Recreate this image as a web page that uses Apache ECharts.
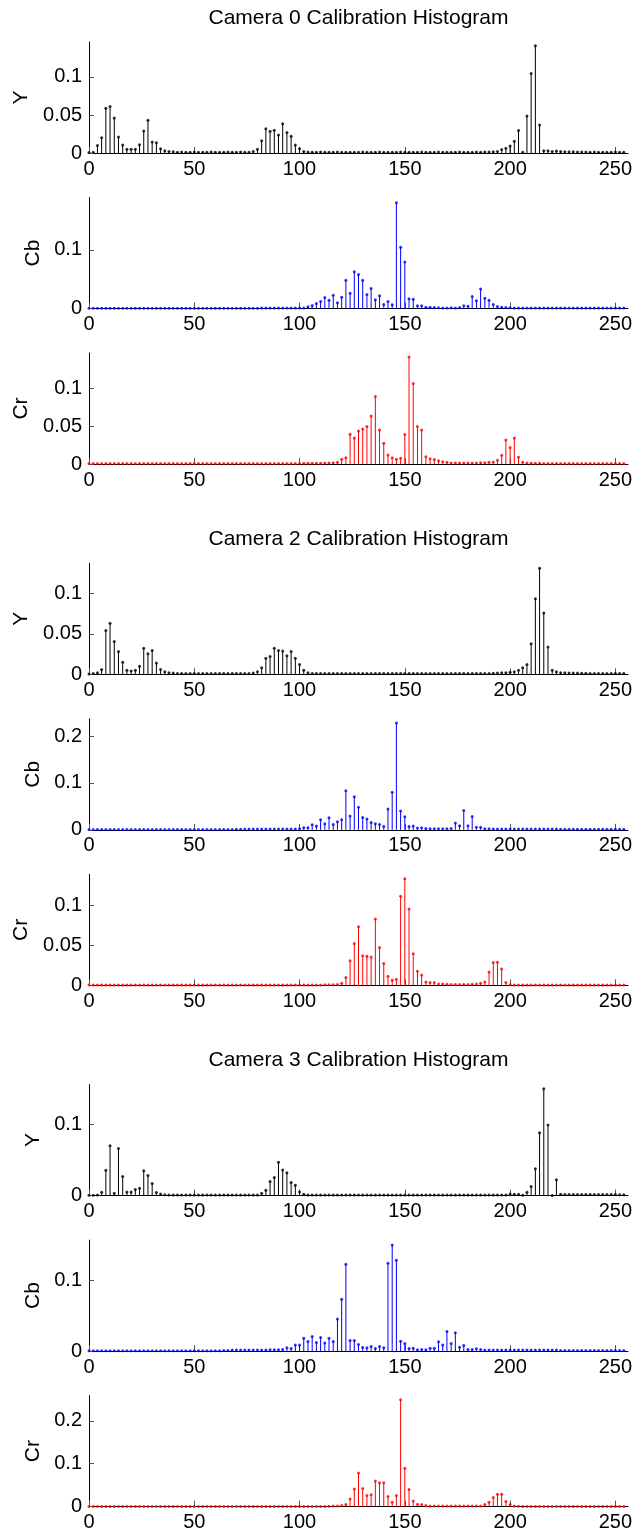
<!DOCTYPE html>
<html>
<head>
<meta charset="utf-8">
<script src="https://cdn.jsdelivr.net/npm/echarts@6/dist/echarts.min.js"></script>
<style>
html,body{margin:0;padding:0;background:#fff;}
#chart{width:637px;height:1535px;}
</style>
</head>
<body>
<div id="chart"></div>
<script>
// Histogram bins (even levels 0..254)
const bins = [];
for (let b = 0; b <= 254; b += 2) bins.push(b);

const titles = ["Camera 0 Calibration Histogram", "Camera 2 Calibration Histogram", "Camera 3 Calibration Histogram"];
const channelNames = ["Y", "Cb", "Cr"];
const channelColors = ["#000000", "#0000ff", "#ff0000"];
const xTicks = [0, 50, 100, 150, 200, 250];

// Camera 0
const cam0Y = [
0.0005,0.001,0.010,0.020,0.059,0.061,0.046,0.021,0.0105,0.005,0.005,0.005,0.011,0.029,0.043,0.0145,
0.0136,0.0057,0.003,0.002,0.0015,0.001,0.0012,0.001,0.001,0.0012,0.001,0.001,0.001,0.0012,0.001,0.001,
0.001,0.0012,0.001,0.001,0.0012,0.001,0.001,0.002,0.005,0.016,0.032,0.0285,0.030,0.0237,0.0386,0.027,
0.022,0.0105,0.0057,0.002,0.0012,0.001,0.001,0.0012,0.001,0.001,0.001,0.0012,0.001,0.001,0.001,0.001,
0.001,0.0012,0.001,0.001,0.001,0.0012,0.001,0.001,0.001,0.001,0.0012,0.001,0.001,0.001,0.001,0.0012,
0.001,0.001,0.001,0.0012,0.001,0.001,0.001,0.001,0.0012,0.001,0.001,0.001,0.0012,0.001,0.0012,0.0012,
0.0015,0.002,0.0045,0.0061,0.0092,0.0153,0.0297,0.001,0.0487,0.1047,0.141,0.0368,0.003,0.003,0.002,0.0026,
0.002,0.0018,0.0015,0.0015,0.0013,0.0012,0.0012,0.001,0.0012,0.001,0.001,0.001,0.001,0.0012,0.001,0.001
];
const cam0Cb = [
0.0005,0.0005,0.0005,0.0005,0.0005,0.0005,0.0005,0.0005,0.0005,0.0005,0.0005,0.0005,0.0005,0.0005,0.0005,0.0005,
0.0005,0.0005,0.0005,0.0005,0.0005,0.0005,0.0005,0.0005,0.0005,0.0005,0.0005,0.0005,0.0005,0.0005,0.0005,0.0005,
0.0005,0.0005,0.0005,0.0005,0.0005,0.0005,0.0005,0.0005,0.0005,0.0008,0.0008,0.0008,0.001,0.001,0.001,0.001,
0.001,0.001,0.001,0.001,0.0028,0.005,0.0085,0.0119,0.0186,0.0141,0.0226,0.0096,0.0192,0.048,0.026,0.0627,
0.058,0.048,0.0237,0.034,0.0147,0.0215,0.0068,0.0119,0.0062,0.180,0.1045,0.079,0.0164,0.0158,0.0045,0.0045,
0.0023,0.0023,0.0015,0.0012,0.001,0.001,0.0012,0.001,0.0015,0.0045,0.004,0.0203,0.013,0.0333,0.0175,0.014,
0.0068,0.0034,0.0023,0.0017,0.0012,0.001,0.001,0.001,0.001,0.001,0.001,0.001,0.001,0.001,0.001,0.001,
0.0008,0.0008,0.0008,0.0008,0.0008,0.0008,0.0008,0.0008,0.0008,0.0008,0.0008,0.0008,0.0008,0.0008,0.0008,0.0008
];
const cam0Cr = [
0.0005,0.0005,0.0005,0.0005,0.0005,0.0005,0.0005,0.0005,0.0005,0.0005,0.0005,0.0005,0.0005,0.0005,0.0005,0.0005,
0.0005,0.0005,0.0005,0.0005,0.0005,0.0005,0.0005,0.0005,0.0005,0.0005,0.0005,0.0005,0.0005,0.0005,0.0005,0.0005,
0.0005,0.0005,0.0005,0.0005,0.0005,0.0005,0.0005,0.0005,0.0005,0.0005,0.0005,0.0005,0.0005,0.0005,0.0005,0.0005,
0.0008,0.0008,0.0008,0.001,0.001,0.001,0.001,0.001,0.0013,0.0013,0.0018,0.0022,0.0062,0.0084,0.0394,0.0345,
0.0438,0.0465,0.0496,0.0637,0.0894,0.045,0.0274,0.012,0.0084,0.0062,0.0075,0.039,0.1416,0.1066,0.0496,0.0451,
0.0097,0.0071,0.0058,0.0044,0.003,0.0022,0.0013,0.0013,0.0013,0.0013,0.0013,0.0013,0.0013,0.0018,0.0018,0.0022,
0.0027,0.0049,0.0115,0.0319,0.0217,0.0345,0.0088,0.0022,0.0013,0.001,0.001,0.001,0.0008,0.0008,0.0008,0.0008,
0.0008,0.0008,0.0008,0.0005,0.0005,0.0005,0.0005,0.0005,0.0005,0.0005,0.0005,0.0005,0.0005,0.0005,0.0005,0.0005
];

// Camera 2
const cam2Y = [
0.0005,0.001,0.002,0.006,0.054,0.063,0.0406,0.028,0.015,0.005,0.004,0.005,0.010,0.032,0.0254,0.0295,
0.014,0.006,0.003,0.002,0.0015,0.001,0.001,0.001,0.001,0.001,0.001,0.001,0.001,0.001,0.001,0.001,
0.001,0.001,0.001,0.001,0.001,0.001,0.001,0.0015,0.003,0.008,0.0197,0.022,0.032,0.0295,0.0287,0.023,
0.028,0.0197,0.012,0.005,0.002,0.001,0.001,0.001,0.001,0.001,0.001,0.001,0.001,0.001,0.001,0.001,
0.001,0.001,0.001,0.001,0.001,0.001,0.001,0.001,0.001,0.001,0.001,0.001,0.001,0.001,0.001,0.001,
0.001,0.001,0.001,0.001,0.001,0.001,0.001,0.001,0.001,0.001,0.001,0.001,0.001,0.001,0.001,0.001,
0.0012,0.0015,0.002,0.002,0.0025,0.003,0.005,0.008,0.012,0.0377,0.0934,0.131,0.0758,0.0336,0.005,0.003,
0.002,0.002,0.0015,0.0015,0.0015,0.0012,0.0012,0.001,0.001,0.001,0.001,0.001,0.001,0.001,0.001,0.001
];
const cam2Cb = [
0.0005,0.0005,0.0005,0.0005,0.0005,0.0005,0.0005,0.0005,0.0005,0.0005,0.0005,0.0005,0.0005,0.0005,0.0005,0.0005,
0.0005,0.0005,0.0005,0.0005,0.0005,0.0005,0.0005,0.0005,0.0005,0.0005,0.0005,0.0005,0.0005,0.0005,0.0005,0.0005,
0.0008,0.0008,0.0008,0.001,0.001,0.0015,0.0015,0.0015,0.0015,0.0015,0.0015,0.0015,0.0015,0.0015,0.0015,0.0015,
0.0015,0.0015,0.002,0.0043,0.0043,0.0107,0.0079,0.0214,0.0129,0.0257,0.0114,0.0171,0.0214,0.0836,0.0293,0.0707,
0.048,0.0264,0.0229,0.0157,0.0129,0.0114,0.007,0.0443,0.08,0.228,0.04,0.0279,0.007,0.0079,0.0036,0.0043,
0.003,0.0025,0.0025,0.0025,0.0025,0.0025,0.003,0.0143,0.0086,0.0414,0.0086,0.0286,0.0057,0.0057,0.002,0.002,
0.0015,0.0015,0.0015,0.0015,0.0015,0.0015,0.0015,0.0015,0.0015,0.0015,0.0015,0.0015,0.0015,0.0015,0.0015,0.0015,
0.001,0.001,0.001,0.001,0.001,0.001,0.001,0.001,0.001,0.001,0.001,0.001,0.001,0.001,0.001,0.001
];
const cam2Cr = [
0.0005,0.0005,0.0005,0.0005,0.0005,0.0005,0.0005,0.0005,0.0005,0.0005,0.0005,0.0005,0.0005,0.0005,0.0005,0.0005,
0.0005,0.0005,0.0005,0.0005,0.0005,0.0005,0.0005,0.0005,0.0005,0.0005,0.0005,0.0005,0.0005,0.0005,0.0005,0.0005,
0.0005,0.0005,0.0005,0.0005,0.0005,0.0005,0.0005,0.0005,0.0005,0.0005,0.0005,0.0005,0.0005,0.0005,0.0005,0.0005,
0.0005,0.0005,0.0005,0.0005,0.0005,0.0005,0.0005,0.0005,0.0006,0.0008,0.0008,0.001,0.0025,0.0097,0.0307,0.0525,
0.0735,0.037,0.0366,0.0357,0.0832,0.0475,0.0273,0.0113,0.0063,0.0076,0.112,0.134,0.096,0.0395,0.0176,0.013,
0.0042,0.0034,0.0034,0.0017,0.0017,0.0013,0.001,0.001,0.001,0.001,0.001,0.0012,0.0015,0.0025,0.0042,0.0168,
0.0286,0.029,0.0206,0.0034,0.0008,0.0005,0.0005,0.0005,0.0005,0.0005,0.0005,0.0005,0.0005,0.0005,0.0005,0.0005,
0.0005,0.0005,0.0005,0.0005,0.0005,0.0005,0.0005,0.0005,0.0005,0.0005,0.0005,0.0005,0.0005,0.0005,0.0005,0.0005
];

// Camera 3
const cam3Y = [
0.0005,0.0005,0.001,0.0047,0.0354,0.0698,0.0033,0.066,0.0269,0.0052,0.0052,0.0085,0.0104,0.0349,0.0283,0.017,
0.0042,0.0024,0.0012,0.001,0.001,0.001,0.001,0.001,0.001,0.001,0.001,0.001,0.001,0.001,0.001,0.001,
0.001,0.001,0.001,0.001,0.001,0.001,0.001,0.001,0.001,0.0033,0.0075,0.0198,0.0255,0.0467,0.0358,0.0321,
0.0184,0.0146,0.0052,0.0019,0.001,0.0008,0.0008,0.0008,0.0008,0.0008,0.0008,0.0008,0.0008,0.0008,0.0008,0.0008,
0.0008,0.0008,0.0008,0.0008,0.0008,0.0008,0.0008,0.0008,0.0008,0.0008,0.0008,0.0008,0.0008,0.0008,0.0008,0.0008,
0.0008,0.0008,0.0008,0.0008,0.0008,0.0008,0.0008,0.001,0.001,0.001,0.001,0.001,0.001,0.001,0.001,0.001,
0.001,0.001,0.001,0.001,0.0024,0.002,0.002,0.0005,0.0047,0.0127,0.0377,0.0882,0.150,0.099,0.0,0.0222,
0.002,0.0015,0.0015,0.0015,0.0015,0.0015,0.0015,0.0015,0.0015,0.0015,0.0015,0.0015,0.0015,0.0015,0.0012,0.0012
];
const cam3Cb = [
0.0005,0.0005,0.0005,0.0005,0.0005,0.0005,0.0005,0.0005,0.0005,0.0005,0.0005,0.0005,0.0005,0.0005,0.0005,0.0005,
0.0005,0.0005,0.0005,0.0005,0.0005,0.0005,0.0005,0.0005,0.0005,0.0005,0.0005,0.0005,0.0005,0.0005,0.0005,0.0005,
0.0008,0.001,0.0015,0.0015,0.0015,0.0015,0.0015,0.0015,0.0015,0.0015,0.0015,0.002,0.002,0.002,0.0023,0.0047,
0.0038,0.0085,0.0085,0.0183,0.0136,0.0207,0.0122,0.0192,0.0113,0.0183,0.0136,0.0455,0.0732,0.123,0.015,0.015,
0.0094,0.0052,0.0047,0.0066,0.0038,0.0066,0.0047,0.1244,0.150,0.1286,0.0141,0.0108,0.0038,0.0042,0.0019,0.0023,
0.0019,0.0042,0.0042,0.0131,0.0085,0.0277,0.0108,0.0258,0.0056,0.008,0.0023,0.0023,0.0033,0.0023,0.0015,0.0015,
0.0015,0.0015,0.0015,0.0015,0.0015,0.0015,0.0015,0.0015,0.0015,0.0015,0.0015,0.0015,0.0015,0.0015,0.0015,0.0015,
0.0008,0.0008,0.0008,0.0008,0.0008,0.0008,0.0008,0.0008,0.0008,0.0008,0.0008,0.0008,0.0008,0.0008,0.0008,0.0008
];
const cam3Cr = [
0.0005,0.0005,0.0005,0.0005,0.0005,0.0005,0.0005,0.0005,0.0005,0.0005,0.0005,0.0005,0.0005,0.0005,0.0005,0.0005,
0.0005,0.0005,0.0005,0.0005,0.0005,0.0005,0.0005,0.0005,0.0005,0.0005,0.0005,0.0005,0.0005,0.0005,0.0005,0.0005,
0.0005,0.0005,0.0005,0.0005,0.0005,0.0005,0.0005,0.0005,0.0005,0.0005,0.0005,0.0005,0.0005,0.0005,0.0005,0.0005,
0.0005,0.0005,0.0005,0.0005,0.0005,0.0005,0.0005,0.0005,0.0005,0.0008,0.0016,0.0016,0.0024,0.0047,0.018,0.0408,
0.0784,0.0424,0.0259,0.0275,0.0596,0.0557,0.0557,0.0235,0.0102,0.0259,0.2494,0.0894,0.04,0.0133,0.0055,0.0047,
0.0024,0.0016,0.0012,0.0012,0.0012,0.0012,0.0012,0.0012,0.0012,0.0012,0.0012,0.0012,0.0012,0.0012,0.0047,0.0102,
0.0212,0.029,0.029,0.0118,0.0047,0.0016,0.0008,0.0005,0.0005,0.0005,0.0005,0.0005,0.0005,0.0005,0.0005,0.0005,
0.0005,0.0005,0.0005,0.0005,0.0005,0.0005,0.0005,0.0005,0.0005,0.0005,0.0005,0.0005,0.0005,0.0005,0.0005,0.0005
];

// y-axis upper limits and tick labels per panel
const yMax = [0.146, 0.189, 0.147, 0.137, 0.237, 0.1395, 0.1557, 0.157, 0.259];
const yTicks = [
  [0, 0.05, 0.1], [0, 0.1], [0, 0.05, 0.1],
  [0, 0.05, 0.1], [0, 0.1, 0.2], [0, 0.05, 0.1],
  [0, 0.1], [0, 0.1], [0, 0.1, 0.2]
];

const panels = [cam0Y, cam0Cb, cam0Cr, cam2Y, cam2Cb, cam2Cr, cam3Y, cam3Cb, cam3Cr];

const FONT = '"Liberation Sans", Arial, Helvetica, sans-serif';
const PLOT_LEFT = 89, PLOT_W = 539, PLOT_H = 111;
const GROUP_STEP = 521.3, PANEL_STEP = 155.5, FIRST_TOP = 42;

const grid = [], xAxis = [], yAxis = [], series = [], graphic = [];

panels.forEach((vals, k) => {
  const g = Math.floor(k / 3), p = k % 3;
  const top = FIRST_TOP + g * GROUP_STEP + p * PANEL_STEP;
  const color = channelColors[p];
  grid.push({ left: PLOT_LEFT, top: top, width: PLOT_W, height: PLOT_H });
  xAxis.push({
    type: 'value', gridIndex: k, min: 0, max: 256,
    axisLine: { show: true, onZero: false, lineStyle: { color: '#000', width: 1 } },
    axisTick: { show: true, inside: true, length: 6, customValues: xTicks, lineStyle: { color: '#555' } },
    axisLabel: { show: true, customValues: xTicks, margin: 6, color: '#000', fontSize: 20, fontFamily: FONT },
    splitLine: { show: false }
  });
  const has005 = yTicks[k].indexOf(0.05) >= 0;
  yAxis.push({
    type: 'value', gridIndex: k, min: 0, max: yMax[k],
    name: channelNames[p], nameLocation: 'middle', nameGap: has005 ? 47 : 41,
    nameTextStyle: { fontSize: 21, fontFamily: FONT, color: '#000' },
    axisLine: { show: true, lineStyle: { color: '#000', width: 1 } },
    axisTick: { show: true, inside: true, length: 5, customValues: yTicks[k], lineStyle: { color: '#555' } },
    axisLabel: { show: true, customValues: yTicks[k], margin: 7, color: '#000', fontSize: 20, fontFamily: FONT },
    splitLine: { show: false }
  });
  const data = bins.map((b, i) => [b, vals[i]]);
  series.push({
    type: 'custom', xAxisIndex: k, yAxisIndex: k, data: data, silent: true,
    renderItem: function (params, api) {
      const x = api.value(0), y = api.value(1);
      const p0 = api.coord([x, 0]), p1 = api.coord([x, y]);
      return { type: 'line', shape: { x1: p0[0], y1: p0[1], x2: p1[0], y2: p1[1] },
               style: { stroke: color, lineWidth: 1 } };
    }
  });
  series.push({
    type: 'scatter', xAxisIndex: k, yAxisIndex: k, data: data, silent: true,
    symbol: 'circle', symbolSize: 3, itemStyle: { color: color }
  });
});

titles.forEach((t, g) => {
  graphic.push({
    type: 'text', x: PLOT_LEFT + PLOT_W / 2, y: 18 + g * GROUP_STEP,
    style: { text: t, font: '21px ' + FONT, fill: '#000',
             align: 'center', verticalAlign: 'middle', textAlign: 'center', textVerticalAlign: 'middle' }
  });
});

const chart = echarts.init(document.getElementById('chart'), null, { renderer: 'canvas' });
chart.setOption({
  animation: false,
  backgroundColor: '#fff',
  grid: grid, xAxis: xAxis, yAxis: yAxis, series: series, graphic: graphic
});
</script>
</body>
</html>
